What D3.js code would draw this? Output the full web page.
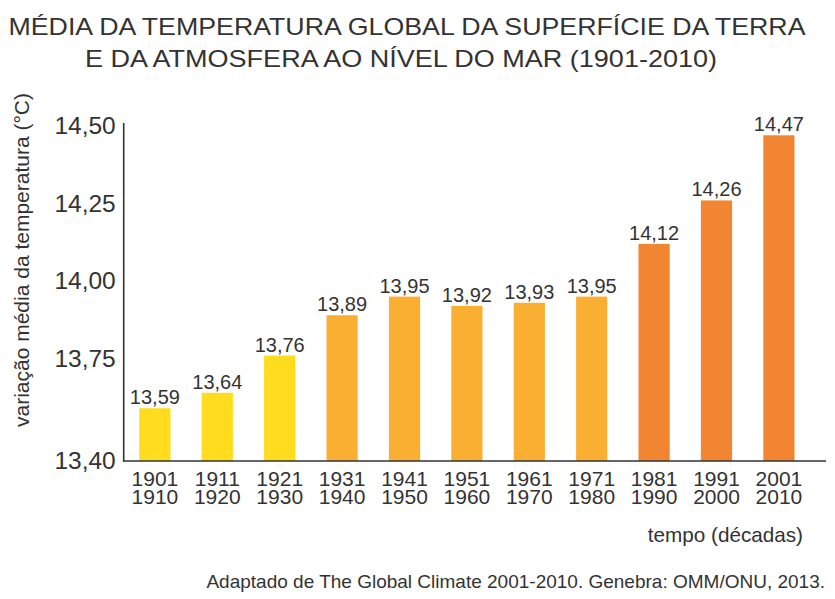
<!DOCTYPE html>
<html><head><meta charset="utf-8">
<script src="https://cdn.jsdelivr.net/npm/d3@7"></script>
<style>
body{margin:0;background:#fff;}
text{font-family:"Liberation Sans",Arial,sans-serif;fill:#333;}
</style></head>
<body><svg id="c" width="835" height="599"></svg>
<script>
const decadeStart = ["1901","1911","1921","1931","1941","1951","1961","1971","1981","1991","2001"];
const decadeEnd   = ["1910","1920","1930","1940","1950","1960","1970","1980","1990","2000","2010"];
const temps = [13.59,13.64,13.76,13.89,13.95,13.92,13.93,13.95,14.12,14.26,14.47];
const groupOf = [0,0,0,1,1,1,1,1,2,2,2];
const groupColors = ["#FFDC1E","#FBAF32","#F28532"];
const yTicks = [13.40,13.75,14.00,14.25,14.50];
const titleLines = ["MÉDIA DA TEMPERATURA GLOBAL DA SUPERFÍCIE DA TERRA","E DA ATMOSFERA AO NÍVEL DO MAR (1901-2010)"];

const svg = d3.select("#c");
const fmt = v => d3.format(".2f")(v).replace(".", ",");

const x = d3.scaleBand().domain(decadeStart).range([123.7, 810.1]).paddingInner(0.5).paddingOuter(0.25);
const y = d3.scaleLinear().domain([13.42, 14.5]).range([461, 126]).clamp(true);

// title
svg.append("g").selectAll("text").data(titleLines).join("text")
  .attr("x", (d,i)=> i===0 ? 407 : 401).attr("y",(d,i)=> i===0 ? 35 : 67)
  .attr("text-anchor","middle").style("font-size","24px")
  .attr("textLength",(d,i)=> i===0 ? 797 : 632).attr("lengthAdjust","spacingAndGlyphs")
  .text(d=>d);

// bars
svg.append("g").selectAll("rect").data(temps).join("rect")
  .attr("x",(d,i)=>x(decadeStart[i])).attr("width",x.bandwidth())
  .attr("y",d=>y(d)).attr("height",d=>y.range()[0]-y(d))
  .attr("fill",(d,i)=>groupColors[groupOf[i]]);

// value labels
svg.append("g").selectAll("text").data(temps).join("text")
  .attr("x",(d,i)=>x(decadeStart[i])+x.bandwidth()/2).attr("y",d=>y(d)-4)
  .attr("text-anchor","middle").style("font-size","20px").text(d=>fmt(d));

// y axis
const yAxis = d3.axisLeft(y).tickValues(yTicks).tickSize(0).tickPadding(8).tickFormat(fmt);
const gy = svg.append("g").attr("transform","translate(123.7,0)").call(yAxis);
gy.select(".domain").remove();
gy.selectAll("text").style("font-size","24.5px").attr("fill","#333").attr("font-family","Liberation Sans, Arial, sans-serif");
svg.append("line").attr("x1",123.7).attr("x2",123.7).attr("y1",123).attr("y2",461.5)
  .attr("stroke","#333").attr("stroke-width",1.6);

// x axis
const xAxis = d3.axisBottom(x).tickSize(0).tickFormat("");
const gx = svg.append("g").attr("transform","translate(0,461)").call(xAxis);
gx.select(".domain").remove();
gx.selectAll(".tick").each(function(d,i){
  const t = d3.select(this).append("text").attr("text-anchor","middle").style("font-size","21px");
  t.append("tspan").attr("x",0).attr("y",25).text(decadeStart[i]);
  t.append("tspan").attr("x",0).attr("y",43).text(decadeEnd[i]);
});
svg.append("line").attr("x1",122.9).attr("x2",826).attr("y1",461).attr("y2",461)
  .attr("stroke","#333").attr("stroke-width",1.6);

// axis titles
svg.append("text").attr("transform","translate(29,260) rotate(-90)")
  .attr("text-anchor","middle").style("font-size","21px").text("variação média da temperatura (°C)");
svg.append("text").attr("x",803).attr("y",542).attr("text-anchor","end")
  .style("font-size","20.7px").text("tempo (décadas)");
svg.append("text").attr("x",825).attr("y",588).attr("text-anchor","end")
  .style("font-size","19px").text("Adaptado de The Global Climate 2001-2010. Genebra: OMM/ONU, 2013.");
</script></body></html>
